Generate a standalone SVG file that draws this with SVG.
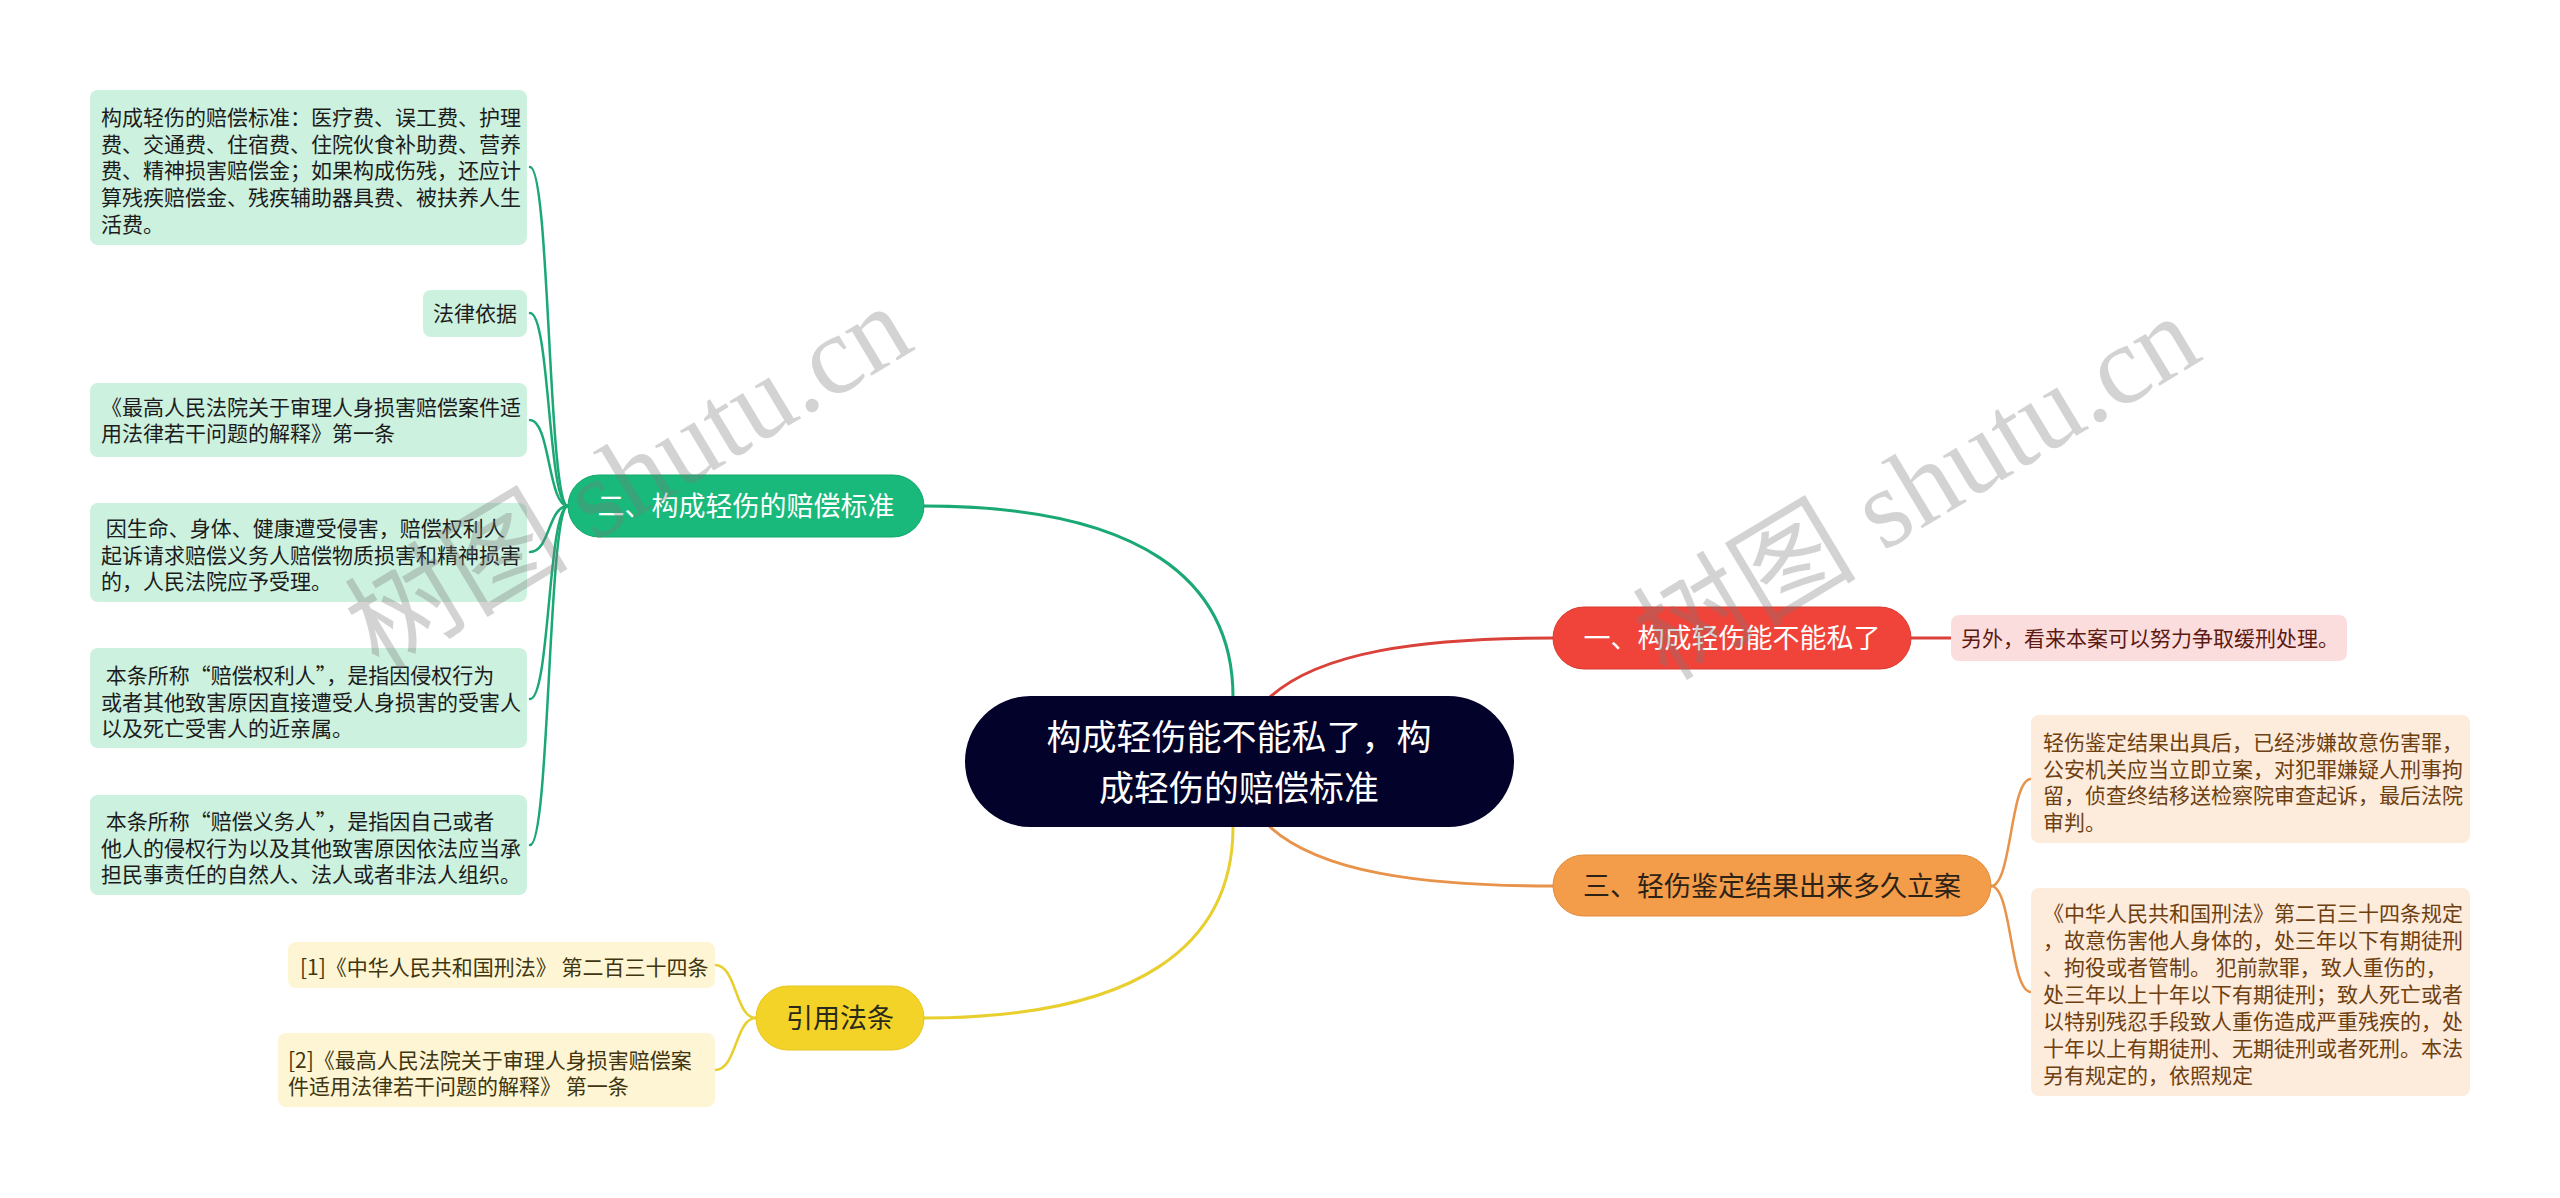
<svg xmlns="http://www.w3.org/2000/svg" width="2560" height="1198" viewBox="0 0 2560 1198">
<style>
text{font-family:"Noto Sans CJK SC","Noto Sans",sans-serif;}
.lf{font-size:21px;}
.mn{font-size:27px;text-anchor:middle;}
.gl{fill:#ccf1df;}
.gt{fill:#1c1c1c;}
.yl{fill:#fdf5d3;}
.yt{fill:#3f3510;}
.ol{fill:#fdebdc;}
.ot{fill:#6e400f;}
.q{font-feature-settings:"fwid" 1;}
.c{fill:none;stroke-linecap:round;}
.wm{font-family:"Liberation Serif","Noto Sans CJK SC",serif;font-size:112px;fill:#7a7a7a;fill-opacity:0.33;}
</style>
<rect width="2560" height="1198" fill="#ffffff"/>
<g id="connectors">
<path class="c" stroke="#1aa874" stroke-width="3" d="M1233 697 C1233 580 1140 506 924 506"/>
<path class="c" stroke="#e8cf2e" stroke-width="3" d="M1233 827 C1233 944 1140 1018 924 1018"/>
<path class="c" stroke="#d9423a" stroke-width="3" d="M1270 697 C1320 652 1420 638 1553 638"/>
<path class="c" stroke="#e8924a" stroke-width="3" d="M1270 827 C1320 872 1420 886 1553 886"/>
<path class="c" stroke="#d9423a" stroke-width="3" d="M1911 638 L1951 638"/>
<path class="c" stroke="#e8924a" stroke-width="2.5" d="M1991 886 C2012 886 2010 779 2031 779"/>
<path class="c" stroke="#e8924a" stroke-width="2.5" d="M1991 886 C2012 886 2010 992 2031 992"/>
<path class="c" stroke="#e8cf2e" stroke-width="2.5" d="M756 1018 C735 1018 737 965 715 965"/>
<path class="c" stroke="#e8cf2e" stroke-width="2.5" d="M756 1018 C735 1018 737 1070 715 1070"/>
<path class="c" stroke="#1aa874" stroke-width="2.5" d="M568 506 C548 506 550 167 530 167"/>
<path class="c" stroke="#1aa874" stroke-width="2.5" d="M568 506 C548 506 550 313 530 313"/>
<path class="c" stroke="#1aa874" stroke-width="2.5" d="M568 506 C548 506 550 420 530 420"/>
<path class="c" stroke="#1aa874" stroke-width="2.5" d="M568 506 C548 506 550 552 530 552"/>
<path class="c" stroke="#1aa874" stroke-width="2.5" d="M568 506 C548 506 550 699 530 699"/>
<path class="c" stroke="#1aa874" stroke-width="2.5" d="M568 506 C548 506 550 845 530 845"/>
</g>
<g id="root">
<rect x="965" y="696" width="549" height="131" rx="65.5" fill="#03022b"/>
<text x="1239" y="750" font-size="35" fill="#ffffff" text-anchor="middle">构成轻伤能不能私了，构</text>
<text x="1239" y="801" font-size="35" fill="#ffffff" text-anchor="middle">成轻伤的赔偿标准</text>
</g>
<g id="branch-red">
<rect x="1553" y="607" width="358" height="62" rx="31" fill="#f0443a" stroke="#d83a30" stroke-width="1"/>
<text class="mn" x="1732" y="648" fill="#ffffff">一、构成轻伤能不能私了</text>
</g>
<g id="leaf-red">
<rect x="1951" y="615" width="396" height="46" rx="8" fill="#fcdddd"/>
<text class="lf" x="1961" y="646" fill="#5c1a12">另外，看来本案可以努力争取缓刑处理。</text>
</g>
<g id="branch-orange">
<rect x="1553" y="855" width="438" height="61" rx="30.5" fill="#f39c4a" stroke="#e08a3a" stroke-width="1"/>
<text class="mn" x="1772" y="896" fill="#2d2216">三、轻伤鉴定结果出来多久立案</text>
</g>
<g id="leaf-orange-1">
<rect class="ol" x="2031" y="715" width="439" height="128" rx="8"/>
<text class="lf ot" x="2043" y="750">轻伤鉴定结果出具后，已经涉嫌故意伤害罪，</text>
<text class="lf ot" x="2043" y="776.7">公安机关应当立即立案，对犯罪嫌疑人刑事拘</text>
<text class="lf ot" x="2043" y="803.3">留，侦查终结移送检察院审查起诉，最后法院</text>
<text class="lf ot" x="2043" y="830">审判。</text>
</g>
<g id="leaf-orange-2">
<rect class="ol" x="2031" y="888" width="439" height="208" rx="8"/>
<text class="lf ot" x="2043" y="921">《中华人民共和国刑法》第二百三十四条规定</text>
<text class="lf ot" x="2043" y="948">，故意伤害他人身体的，处三年以下有期徒刑</text>
<text class="lf ot" x="2043" y="975">、拘役或者管制。 犯前款罪，致人重伤的，</text>
<text class="lf ot" x="2043" y="1002">处三年以上十年以下有期徒刑；致人死亡或者</text>
<text class="lf ot" x="2043" y="1029">以特别残忍手段致人重伤造成严重残疾的，处</text>
<text class="lf ot" x="2043" y="1056">十年以上有期徒刑、无期徒刑或者死刑。本法</text>
<text class="lf ot" x="2043" y="1083">另有规定的，依照规定</text>
</g>
<g id="branch-green">
<rect x="568" y="475" width="356" height="62" rx="31" fill="#19b97b" stroke="#12a86c" stroke-width="1"/>
<text class="mn" x="746" y="516" fill="#ffffff">二、构成轻伤的赔偿标准</text>
</g>
<g id="leaf-green-1">
<rect class="gl" x="90" y="90" width="437" height="155" rx="8"/>
<text class="lf gt" x="101" y="125">构成轻伤的赔偿标准：医疗费、误工费、护理</text>
<text class="lf gt" x="101" y="151.7">费、交通费、住宿费、住院伙食补助费、营养</text>
<text class="lf gt" x="101" y="178.3">费、精神损害赔偿金；如果构成伤残，还应计</text>
<text class="lf gt" x="101" y="205">算残疾赔偿金、残疾辅助器具费、被扶养人生</text>
<text class="lf gt" x="101" y="231.7">活费。</text>
</g>
<g id="leaf-green-2">
<rect class="gl" x="423" y="290" width="104" height="47" rx="8"/>
<text class="lf gt" x="475" y="321" text-anchor="middle">法律依据</text>
</g>
<g id="leaf-green-3">
<rect class="gl" x="90" y="383" width="437" height="74" rx="8"/>
<text class="lf gt" x="101" y="414.5">《最高人民法院关于审理人身损害赔偿案件适</text>
<text class="lf gt" x="101" y="441.2">用法律若干问题的解释》第一条</text>
</g>
<g id="leaf-green-4">
<rect class="gl" x="90" y="503" width="437" height="99" rx="8"/>
<text class="lf gt" x="101" y="536" xml:space="preserve"> 因生命、身体、健康遭受侵害，赔偿权利人</text>
<text class="lf gt" x="101" y="562.7">起诉请求赔偿义务人赔偿物质损害和精神损害</text>
<text class="lf gt" x="101" y="589.3">的，人民法院应予受理。</text>
</g>
<g id="leaf-green-5">
<rect class="gl" x="90" y="648" width="437" height="100" rx="8"/>
<text class="lf gt" x="101" y="683" xml:space="preserve"> 本条所称<tspan class="q">“</tspan>赔偿权利人<tspan class="q">”</tspan>，是指因侵权行为</text>
<text class="lf gt" x="101" y="709.7">或者其他致害原因直接遭受人身损害的受害人</text>
<text class="lf gt" x="101" y="736.3">以及死亡受害人的近亲属。</text>
</g>
<g id="leaf-green-6">
<rect class="gl" x="90" y="795" width="437" height="100" rx="8"/>
<text class="lf gt" x="101" y="829" xml:space="preserve"> 本条所称<tspan class="q">“</tspan>赔偿义务人<tspan class="q">”</tspan>，是指因自己或者</text>
<text class="lf gt" x="101" y="855.7">他人的侵权行为以及其他致害原因依法应当承</text>
<text class="lf gt" x="101" y="882.3">担民事责任的自然人、法人或者非法人组织。</text>
</g>
<g id="branch-yellow">
<rect x="756" y="986" width="168" height="64" rx="32" fill="#f4d328" stroke="#e6c41e" stroke-width="1"/>
<text class="mn" x="840" y="1028" fill="#2a2a1a">引用法条</text>
</g>
<g id="leaf-yellow-1">
<rect class="yl" x="288" y="942" width="427" height="46" rx="8"/>
<text class="lf yt" x="300" y="975">[1]《中华人民共和国刑法》 第二百三十四条</text>
</g>
<g id="leaf-yellow-2">
<rect class="yl" x="278" y="1033" width="437" height="74" rx="8"/>
<text class="lf yt" x="288" y="1068">[2]《最高人民法院关于审理人身损害赔偿案</text>
<text class="lf yt" x="288" y="1094">件适用法律若干问题的解释》 第一条</text>
</g>
<g id="watermarks">
<text class="wm" transform="translate(648 510) rotate(-31)" text-anchor="middle">树图 shutu.cn</text>
<text class="wm" transform="translate(1936 520) rotate(-31)" text-anchor="middle">树图 shutu.cn</text>
</g>
</svg>
